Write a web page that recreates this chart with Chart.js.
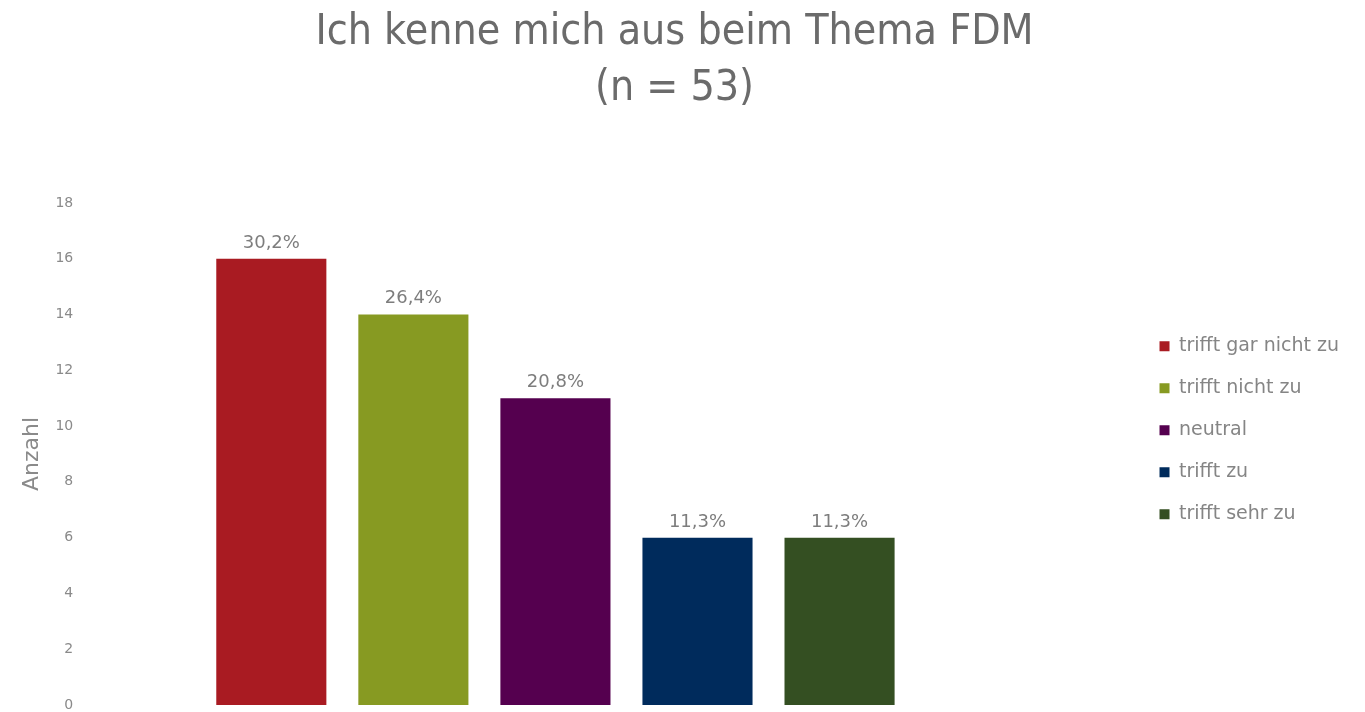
<!DOCTYPE html>
<html><head><meta charset="utf-8">
<script src="https://cdn.jsdelivr.net/npm/chart.js@4"></script>
<style>html,body{margin:0;padding:0;background:#fff;}#wrap{width:1365px;height:712px;}</style>
</head><body><div id="wrap"><canvas id="c" width="1365" height="712"></canvas></div>
<script>
const titleLines = ['Ich kenne mich aus beim Thema FDM', '(n = 53)'];
const seriesNames = ['trifft gar nicht zu', 'trifft nicht zu', 'neutral', 'trifft zu', 'trifft sehr zu'];
const counts = [16, 14, 11, 6, 6];
const percentLabels = ['30,2%', '26,4%', '20,8%', '11,3%', '11,3%'];
const colors = ['#a91b22', '#879a22', '#55004f', '#002b5c', '#344f22'];
const yTicks = {min: 0, max: 18, step: 2};

const FONT = '"DejaVu Sans", "Roboto", sans-serif';
const TFONT = '"DejaVu Sans Condensed", "DejaVu Sans", sans-serif';

const pctPlugin = {
  id: 'pct',
  afterDatasetsDraw(chart) {
    const ctx = chart.ctx;
    ctx.save();
    ctx.fillStyle = '#7d7d7d';
    ctx.font = '18px ' + FONT;
    ctx.textAlign = 'center';
    ctx.textBaseline = 'alphabetic';
    chart.data.datasets.forEach((ds, i) => {
      const el = chart.getDatasetMeta(i).data[0];
      ctx.fillText(percentLabels[i], el.x, el.y - 11);
    });
    ctx.restore();
  }
};

new Chart(document.getElementById('c'), {
  type: 'bar',
  data: {
    datasets: seriesNames.map((n, i) => ({
      label: n, data: [{x: 0, y: counts[i]}], backgroundColor: colors[i], borderWidth: 0
    }))
  },
  options: {
    responsive: false,
    animation: false,
    layout: {padding: {left: 0, right: 16, top: 4, bottom: 0}},
    categoryPercentage: 0.668,
    barPercentage: 0.775,
    plugins: {
      title: {
        display: true, text: titleLines, color: '#6b6b6b',
        font: {family: TFONT, size: 42.5, weight: 'normal', lineHeight: 1.34},
        padding: {top: 0, bottom: 85}
      },
      legend: {
        position: 'right',
        title: {display: true, text: '', font: {size: 12, lineHeight: 1.2}, padding: {top: 130, bottom: 0}},
        labels: {
          boxWidth: 10, boxHeight: 10, padding: 23, color: '#858585',
          font: {family: FONT, size: 19}
        }
      },
      tooltip: {enabled: false}
    },
    scales: {
      x: {
        type: 'linear', display: false, offset: false, bounds: 'data', min: -1, max: 1.205,
        grid: {offset: false},
        afterBuildTicks: (s) => { s.ticks = [{value: s.min}, {value: s.max}]; }
      },
      y: {
        min: yTicks.min, max: yTicks.max,
        ticks: {stepSize: yTicks.step, color: '#8a8a8a', font: {family: FONT, size: 14, lineHeight: 1}, padding: 0},
        grid: {display: false, drawTicks: false},
        border: {display: false},
        title: {display: true, text: 'Anzahl', color: '#8a8a8a', font: {family: FONT, size: 22, lineHeight: 1.2}, padding: {top: 19, bottom: 10}}
      }
    }
  },
  plugins: [pctPlugin]
});
</script></body></html>
